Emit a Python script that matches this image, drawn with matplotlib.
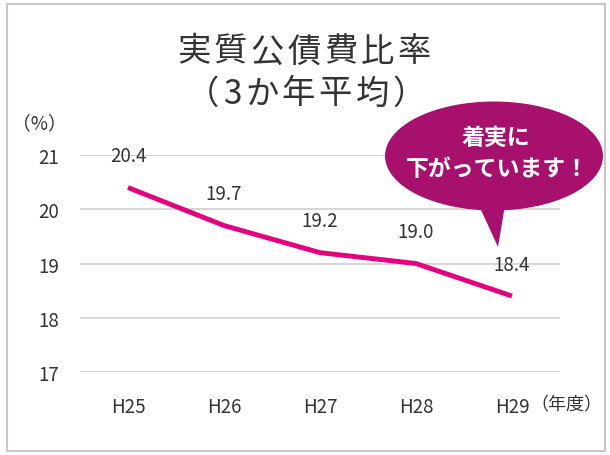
import numpy as np
import matplotlib.pyplot as plt
from matplotlib.patches import Ellipse, Polygon, Rectangle

plt.rcParams['font.family'] = ['Noto Sans CJK JP', 'DejaVu Sans']

years = ["H25", "H26", "H27", "H28", "H29"]
ratio = [20.4, 19.7, 19.2, 19.0, 18.4]
y_ticks = [17, 18, 19, 20, 21]
title_1 = "実質公債費比率"
title_2 = "（3か年平均）"

W, H = 610, 456
fig = plt.figure(figsize=(W / 100, H / 100), dpi=100)

def fx(px):
    return px / W

def fy(py):
    return 1 - py / H

# outer border
fig.patches.append(Rectangle((fx(7), fy(452)), fx(598), 447 / H, transform=fig.transFigure,
                             fill=False, edgecolor="#c8c8c8", linewidth=1.5))

ax = fig.add_axes([fx(80), fy(373), fx(480), (373 - 156) / H])
x = np.arange(len(years))
ax.set_xlim(-0.5, len(years) - 0.5)
ax.set_ylim(17, 21)
ax.set_yticks(y_ticks)
ax.set_yticklabels([str(v) for v in y_ticks], fontsize=13.5, color="#333333")
ax.yaxis.grid(True, color="#d0d0d0", linewidth=1.2)
ax.set_axisbelow(True)
ax.set_xticks(x)
ax.set_xticklabels(years, fontsize=13.5, color="#333333")
ax.tick_params(length=0)
ax.tick_params(axis="y", pad=15)
ax.tick_params(axis="x", pad=17)
for s in ax.spines.values():
    s.set_visible(False)

ax.plot(x, ratio, color="#e4007f", linewidth=3.5, solid_capstyle="butt")
for xi, v in zip(x, ratio):
    ax.annotate(f"{v:.1f}", (xi, v), xytext=(0, 23), textcoords="offset points",
                ha="center", va="center", fontsize=13.5, color="#333333")

fig.text(fx(530), fy(405), "（年度）", fontsize=13, color="#333333", ha="left", va="center")
fig.text(fx(12), fy(124), "（%）", fontsize=13.5, color="#333333", ha="left", va="center")

# title, drawn char by char to get the wide letter spacing
title_size = 24
em = title_size * 100 / 72
track = 3.5
for line, ty, cx0 in [(title_1, 52, 304), (title_2, 94, 306)]:
    adv = [(0.55 if ch.isascii() else 1.0) * em + track for ch in line]
    total = sum(adv) - track
    pos = cx0 - total / 2
    for ch, a in zip(line, adv):
        w = a - track
        fig.text(fx(pos + w / 2), fy(ty), ch, fontsize=title_size, color="#333333",
                 ha="center", va="center")
        pos += a

# speech bubble
bubble = "#a8106e"
fig.patches.append(Polygon([(fx(476), fy(200)), (fx(506), fy(200)), (fx(498), fy(248))],
                           closed=True, transform=fig.transFigure, facecolor=bubble, edgecolor="none"))
fig.patches.append(Ellipse((fx(494), fy(157)), fx(218), 109 / H, transform=fig.transFigure,
                           facecolor=bubble, edgecolor="none"))
fig.text(fx(496), fy(138), "着実に", fontsize=16.5, color="white", fontweight="bold", ha="center", va="center")
fig.text(fx(497), fy(169), "下がっています！", fontsize=16.5, color="white", fontweight="bold", ha="center", va="center")

fig.savefig("out.png", dpi=100)
